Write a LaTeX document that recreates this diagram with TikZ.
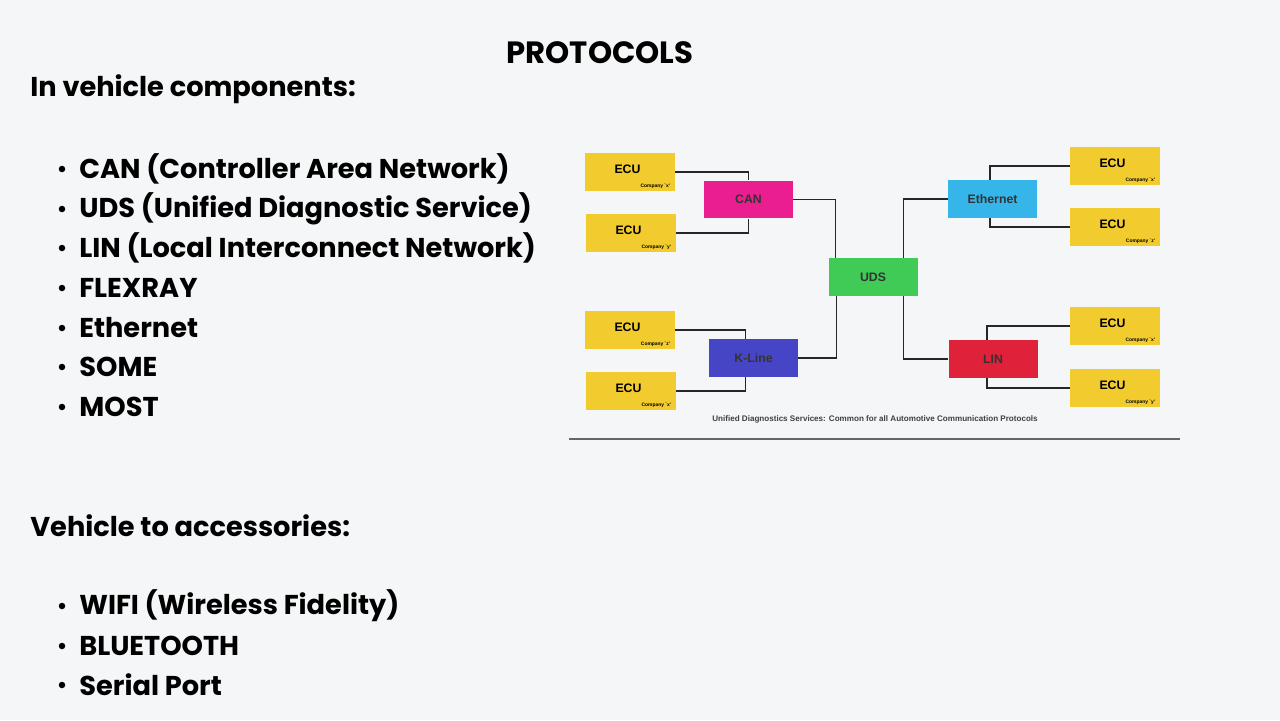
\documentclass[tikz,border=0pt]{standalone}
\usepackage{fontspec}
\setmainfont{Poppins}
\newfontfamily\diafont{Liberation Sans}
\usetikzlibrary{positioning}
\definecolor{bgcol}{HTML}{F4F6F7}
\definecolor{ecucol}{HTML}{F2CB2E}
\definecolor{cancol}{HTML}{EA1E8E}
\definecolor{ethcol}{HTML}{35B5EA}
\definecolor{udscol}{HTML}{3FCB55}
\definecolor{klcol}{HTML}{4545C6}
\definecolor{lincol}{HTML}{E0213A}
\begin{document}
\begin{tikzpicture}[
        x=0.02cm, y=-0.02cm,
        heading/.style={anchor=west, inner sep=0, font=\fontsize{15.5}{18}\selectfont\bfseries},
        item/.style={anchor=west, inner sep=0, font=\fontsize{15.5}{18}\selectfont\bfseries},
        dot/.style={circle, fill=black, inner sep=0, minimum size=0.13cm},
        ecu/.style={fill=ecucol, minimum width=1.8cm, minimum height=0.76cm, inner sep=0},
        proto/.style={minimum width=1.78cm, minimum height=0.76cm, inner sep=0, font=\diafont\fontsize{7}{8}\selectfont\bfseries, text=black!80},
        link/.style={draw=black!85, line width=0.7pt},
    ]
    \fill[bgcol] (0,0) rectangle (1280,720);

    % titles
    \node[font=\fontsize{17.5}{20}\selectfont\bfseries, inner sep=0] (title) at (600,53) {PROTOCOLS};
    \node[heading] (invehicle) at (30,89) {In vehicle components:};
    \node[heading] (access) at (30,526) {Vehicle to accessories:};

    % bullet lists
    \foreach \name/\y/\txt in {can/169/CAN (Controller Area Network), uds/209/UDS (Unified Diagnostic Service),
        lin/248/LIN (Local Interconnect Network), flex/288/FLEXRAY, eth/328/Ethernet, someip/367/SOME/IP,
        most/407/MOST, wifi/606/WIFI (Wireless Fidelity), bt/646/BLUETOOTH, serial/685/Serial Port}{
        \node[dot] (d-\name) at (62,\y) {};
        \node[item] (t-\name) at (79,\y) {\txt};
    }

    % protocol boxes
    \node[proto, fill=cancol] (can) at (748.5,199.5) {CAN};
    \node[proto, fill=klcol] (kline) at (753.5,358) {K-Line};
    \node[proto, fill=udscol] (uds) at (873,277) {UDS};
    \node[proto, fill=ethcol] (eth) at (992.5,199) {Ethernet};
    \node[proto, fill=lincol] (lin) at (993,359) {LIN};

    % ECUs
    \foreach \name/\x/\y/\c in {ecu1/630/172/x, ecu2/631/233/y, ecu3/630/330/z, ecu4/631/391/x,
        ecu5/1115/166/x, ecu6/1115/227/z, ecu7/1115/326/x, ecu8/1115/388/y}{
        \node[ecu] (\name) at (\x,\y) {};
        \node[font=\diafont\fontsize{7}{8}\selectfont\bfseries, inner sep=0] at ([xshift=-0.05cm,yshift=0.05cm]\name.center) {ECU};
        \node[font=\diafont\fontsize{2.8}{3}\selectfont\bfseries, inner sep=0, anchor=east] at ([xshift=-0.1cm,yshift=-0.28cm]\name.center -| \name.east) {Company `\c'};
    }

    % connectors
    \draw[link] (ecu1.east) -| (can.north);
    \draw[link] (ecu2.east) -| (can.south);
    \draw[link] (can.east) -| ([xshift=0.14cm]uds.north west);
    \draw[link] (ecu3.east) -| ([xshift=-0.16cm]kline.north);
    \draw[link] (ecu4.east) -| ([xshift=-0.16cm]kline.south);
    \draw[link] (kline.east) -| ([xshift=0.16cm]uds.south west);
    \draw[link] (eth.west) -| ([xshift=-0.28cm]uds.north east);
    \draw[link] (ecu5.west) -| ([xshift=-0.05cm]eth.north);
    \draw[link] (ecu6.west) -| ([xshift=-0.05cm]eth.south);
    \draw[link] (lin.west) -| ([xshift=-0.28cm]uds.south east);
    \draw[link] (ecu7.west) -| ([xshift=-0.12cm]lin.north);
    \draw[link] (ecu8.west) -| ([xshift=-0.12cm]lin.south);

    \node[font=\diafont\fontsize{4.6}{5}\selectfont\bfseries, text=black!75, inner sep=0] (caption) at (875,419)
        {Unified Diagnostics Services: Common for all Automotive Communication Protocols};
    \coordinate (rulel) at (569,439);
    \coordinate (ruler) at (1180,439);
    \draw[black!60, line width=0.6pt] (rulel) -- (ruler);
\end{tikzpicture}
\end{document}
